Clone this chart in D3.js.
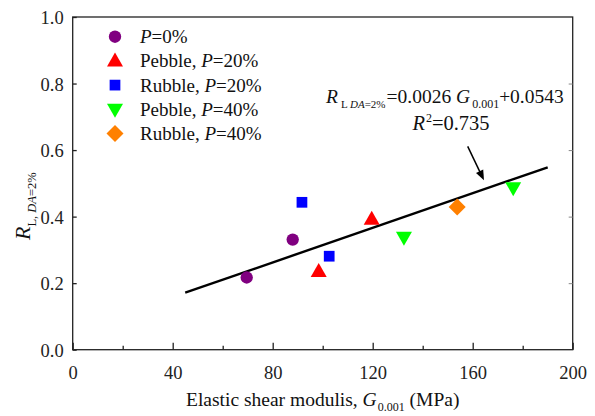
<!DOCTYPE html>
<html><head><meta charset="utf-8">
<script src="https://cdn.jsdelivr.net/npm/d3@7"></script>
<style>
body{margin:0;background:#fff;}
</style></head>
<body><svg id="c" width="595" height="416"></svg>
<script>
// ---- data ----
const seriesNames = ["P=0%","Pebble, P=20%","Rubble, P=20%","Pebble, P=40%","Rubble, P=40%"];
const seriesColors = ["#800080","#ff0000","#0000ff","#00ff00","#ff8000"];
const seriesShapes = ["circle","triangleUp","square","triangleDown","diamond"];
const p0_G = [69.6, 88.0];        const p0_R = [0.217, 0.331];
const peb20_G = [98.4, 119.6];    const peb20_R = [0.235, 0.392];
const rub20_G = [91.7, 102.6];    const rub20_R = [0.443, 0.281];
const peb40_G = [132.5, 176.2];   const peb40_R = [0.338, 0.487];
const rub40_G = [153.8];          const rub40_R = [0.429];
const fitSlope = 0.0026, fitIntercept = 0.0543, fitRange = [45, 190];
const xTicks = [0,40,80,120,160,200];
const xMinor = [20,60,100,140,180];
const yTicks = [0.0,0.2,0.4,0.6,0.8,1.0];
const arrowFrom = [158, 0.611], arrowTo = [164.5, 0.509];

const FONT = "'Liberation Serif'";
const svg = d3.select("#c").style("font-family", FONT);
const x = d3.scaleLinear().domain([0,200]).range([72.7,572.7]);
const y = d3.scaleLinear().domain([0,1]).range([349.7,17]);

const g = svg.append("g");
g.append("rect").attr("x",x(0)).attr("y",y(1)).attr("width",x(200)-x(0)).attr("height",y(0)-y(1))
 .attr("fill","none").attr("stroke","#222").attr("stroke-width",1.3);

function styleAxis(sel){
  sel.attr("font-family",null).style("font-family",FONT);
  sel.select(".domain").remove();
  sel.selectAll("line").attr("stroke","#222").attr("stroke-width",1.3);
  sel.selectAll("text").attr("font-size",18.5).attr("fill","#222").style("font-family",FONT);
}
const ax = g.append("g").attr("transform",`translate(0,${y(0)})`)
  .call(d3.axisBottom(x).tickValues(xTicks).tickSize(-7).tickPadding(16).tickFormat(d3.format("d")));
styleAxis(ax);
const axm = g.append("g").attr("transform",`translate(0,${y(0)})`)
  .call(d3.axisBottom(x).tickValues(xMinor).tickSize(-4).tickFormat(""));
styleAxis(axm);
const ay = g.append("g").attr("transform",`translate(${x(0)},0)`)
  .call(d3.axisLeft(y).tickValues(yTicks).tickSize(-4).tickPadding(9).tickFormat(d3.format(".1f")));
styleAxis(ay);
ay.selectAll("text").attr("dy","0.35em");
const ar = g.append("g").attr("transform",`translate(${x(200)},0)`)
  .call(d3.axisRight(y).tickValues(yTicks.slice(1,5)).tickSize(-4).tickFormat(""));
styleAxis(ar);
ar.selectAll("line").attr("stroke","#888").attr("stroke-width",1);

g.append("line").attr("x1",x(fitRange[0])).attr("y1",y(fitSlope*fitRange[0]+fitIntercept))
 .attr("x2",x(fitRange[1])).attr("y2",y(fitSlope*fitRange[1]+fitIntercept))
 .attr("stroke","#000").attr("stroke-width",2.4);

function shapePath(shape){
  switch(shape){
    case "circle": return d3.symbol(d3.symbolCircle,120)();
    case "square": return d3.symbol(d3.symbolSquare,115)();
    case "triangleUp": return "M0,-8.5L8,5.5L-8,5.5Z";
    case "triangleDown": return "M0,8.5L8,-5.5L-8,-5.5Z";
    case "diamond": return "M0,-8.5L8.5,0L0,8.5L-8.5,0Z";
  }
}
const seriesData = [[p0_G,p0_R],[peb20_G,peb20_R],[rub20_G,rub20_R],[peb40_G,peb40_R],[rub40_G,rub40_R]];
seriesData.forEach((s,i)=>{
  const pts = s[0].map((gv,j)=>[gv,s[1][j]]);
  g.selectAll(null).data(pts).enter().append("path")
   .attr("d",shapePath(seriesShapes[i]))
   .attr("transform",d=>`translate(${x(d[0])},${y(d[1])})`)
   .attr("fill",seriesColors[i]);
});

const leg = g.append("g");
seriesNames.forEach((nm,i)=>{
  const cy = 36.7 + i*24.2;
  leg.append("path").attr("d",shapePath(seriesShapes[i])).attr("transform",`translate(115,${cy})`).attr("fill",seriesColors[i]);
  const t = leg.append("text").attr("x",140).attr("y",cy+6.5).attr("font-size",19).attr("fill","#111").style("font-family",FONT);
  const parts = nm.split("P=");
  if(parts[0]) t.append("tspan").text(parts[0]);
  t.append("tspan").attr("font-style","italic").text("P");
  t.append("tspan").text("="+parts[1]);
});

const eq = g.append("text").attr("x",326).attr("y",103.3).attr("font-size",19.5).attr("fill","#111").style("font-family",FONT);
eq.append("tspan").attr("font-style","italic").text("R");
eq.append("tspan").attr("font-size",11).attr("dy",5).attr("dx",3).text("L ");
eq.append("tspan").attr("font-size",11).attr("font-style","italic").text("DA");
eq.append("tspan").attr("font-size",11).text("=2%");
eq.append("tspan").attr("dy",-5).attr("dx",1).text("=0.0026 ");
eq.append("tspan").attr("font-style","italic").text("G");
eq.append("tspan").attr("font-size",12).attr("dy",5).attr("dx",2).text("0.001");
eq.append("tspan").attr("dy",-5).text("+0.0543");
const eq2 = g.append("text").attr("x",451).attr("y",130).attr("text-anchor","middle").attr("font-size",20.5).attr("fill","#111").style("font-family",FONT);
eq2.append("tspan").attr("font-style","italic").text("R");
eq2.append("tspan").attr("font-size",12).attr("dy",-8).attr("dx",1).text("2");
eq2.append("tspan").attr("dy",8).text("=0.735");

const ax1=x(arrowFrom[0]), ay1=y(arrowFrom[1]), ax2=x(arrowTo[0]), ay2=y(arrowTo[1]);
const ang = Math.atan2(ay2-ay1, ax2-ax1), hl=10, hw=4;
g.append("line").attr("x1",ax1).attr("y1",ay1)
 .attr("x2",ax2-Math.cos(ang)*hl*0.8).attr("y2",ay2-Math.sin(ang)*hl*0.8)
 .attr("stroke","#000").attr("stroke-width",1.5);
const bx = ax2-Math.cos(ang)*hl, by = ay2-Math.sin(ang)*hl;
g.append("path").attr("d",`M${ax2},${ay2}L${bx-Math.sin(ang)*hw},${by+Math.cos(ang)*hw}L${bx+Math.sin(ang)*hw},${by-Math.cos(ang)*hw}Z`)
 .attr("fill","#000");

const xt = svg.append("text").attr("x",x(100)).attr("y",406).attr("text-anchor","middle").attr("font-size",19.5).attr("fill","#111").style("font-family",FONT);
xt.append("tspan").text("Elastic shear modulis, ");
xt.append("tspan").attr("font-style","italic").text("G");
xt.append("tspan").attr("font-size",12).attr("dy",5).attr("dx",1).text("0.001");
xt.append("tspan").attr("dy",-5).text(" (MPa)");

const yt = svg.append("text").attr("transform","translate(30,240) rotate(-90)").attr("font-size",22).attr("fill","#111").style("font-family",FONT);
yt.append("tspan").attr("font-style","italic").text("R");
yt.append("tspan").attr("font-size",12.5).attr("dy",6).text("L, ");
yt.append("tspan").attr("font-size",12.5).attr("font-style","italic").text("DA");
yt.append("tspan").attr("font-size",12.5).text("=2%");
</script></body></html>
